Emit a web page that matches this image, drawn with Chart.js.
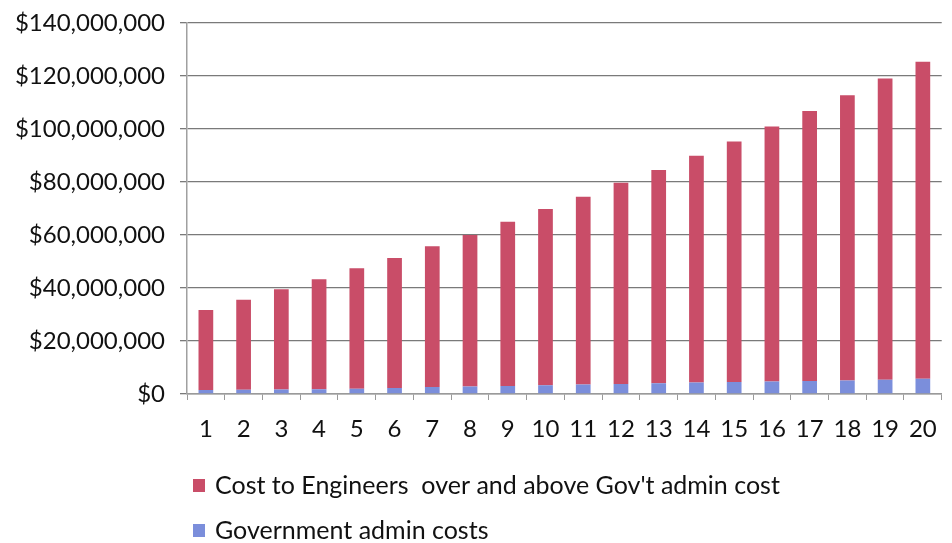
<!DOCTYPE html>
<html>
<head>
<meta charset="utf-8">
<script src="https://cdn.jsdelivr.net/npm/chart.js@4/dist/chart.umd.min.js"></script>
<style>
  html, body { margin: 0; padding: 0; background: #ffffff; }
  #wrap { width: 952px; height: 543px; position: relative; }
</style>
</head>
<body>
<div id="wrap"><canvas id="costChart"></canvas></div>
<script>
// years 1..20
const years = ['1','2','3','4','5','6','7','8','9','10','11','12','13','14','15','16','17','18','19','20'];

// government admin costs per year ($)
const govAdmin = [1500000, 1600000, 1700000, 1800000, 2000000, 2300000, 2600000, 2800000, 3000000, 3300000,
                  3600000, 3800000, 4100000, 4300000, 4500000, 4700000, 4900000, 5100000, 5400000, 5800000];

// cost to engineers over and above gov't admin cost ($)
const engineerCost = [30200000, 34000000, 37800000, 41500000, 45500000, 49000000, 53200000, 57200000, 62000000, 66500000,
                      70800000, 75900000, 80400000, 85600000, 90800000, 96200000, 101900000, 107600000, 113700000, 119600000];

const yTicks = [0, 20000000, 40000000, 60000000, 80000000, 100000000, 120000000, 140000000];

const seriesNames = ['Government admin costs', 'Cost to Engineers  over and above Gov\'t admin cost'];
const seriesColors = ['#7b8edb', '#c94d68'];

const FONT = 'Lato, "Liberation Sans", sans-serif';

// legend under the axis, one entry per line, top of the stack first
const stackedLegend = {
    id: 'stackedLegend',
    afterDraw(chart) {
        const ctx = chart.ctx;
        const left = chart.chartArea.left + 6;
        const rows = [486, 531];
        const sets = chart.data.datasets.slice().reverse();
        ctx.save();
        ctx.font = '25px ' + FONT;
        ctx.textBaseline = 'middle';
        sets.forEach(function (ds, i) {
            ctx.fillStyle = ds.backgroundColor;
            ctx.fillRect(left, rows[i] - 7, 12, 13);
            ctx.fillStyle = '#111111';
            ctx.fillText(ds.label, left + 22, rows[i]);
        });
        ctx.restore();
    }
};

new Chart(document.getElementById('costChart'), {
    type: 'bar',
    data: {
        labels: years,
        datasets: [{
            label: seriesNames[0],
            data: govAdmin,
            backgroundColor: seriesColors[0],
            barPercentage: 0.39,
            categoryPercentage: 1
        }, {
            label: seriesNames[1],
            data: engineerCost,
            backgroundColor: seriesColors[1],
            barPercentage: 0.39,
            categoryPercentage: 1
        }]
    },
    options: {
        responsive: true,
        maintainAspectRatio: false,
        animation: false,
        layout: { padding: { top: 23, right: 9, left: 0, bottom: 0 } },
        plugins: {
            legend: { display: false },
            tooltip: { enabled: false }
        },
        scales: {
            x: {
                stacked: true,
                afterFit: function (scale) { scale.height = 149; },
                grid: {
                    offset: true,
                    drawOnChartArea: false,
                    tickLength: 6,
                    color: '#9a9a9a'
                },
                border: { color: '#9a9a9a', width: 1.5 },
                ticks: {
                    color: '#111111',
                    padding: 15,
                    maxRotation: 0,
                    autoSkip: false,
                    font: { family: FONT, size: 24 }
                }
            },
            y: {
                stacked: true,
                min: 0,
                max: 140000000,
                afterFit: function (scale) {
                    scale.width = 187;
                    scale.paddingTop = 0;
                    scale.paddingBottom = 0;
                },
                afterBuildTicks: function (scale) {
                    scale.ticks = yTicks.map(function (v) { return { value: v }; });
                },
                grid: {
                    color: '#7a7a7a',
                    lineWidth: 1.3,
                    tickLength: 7
                },
                border: { color: '#a0a0a0', width: 1.5 },
                ticks: {
                    color: '#111111',
                    padding: 15,
                    font: { family: FONT, size: 24 },
                    callback: function (v) { return '$' + v.toLocaleString('en-US'); }
                }
            }
        }
    },
    plugins: [stackedLegend]
});
</script>
</body>
</html>
